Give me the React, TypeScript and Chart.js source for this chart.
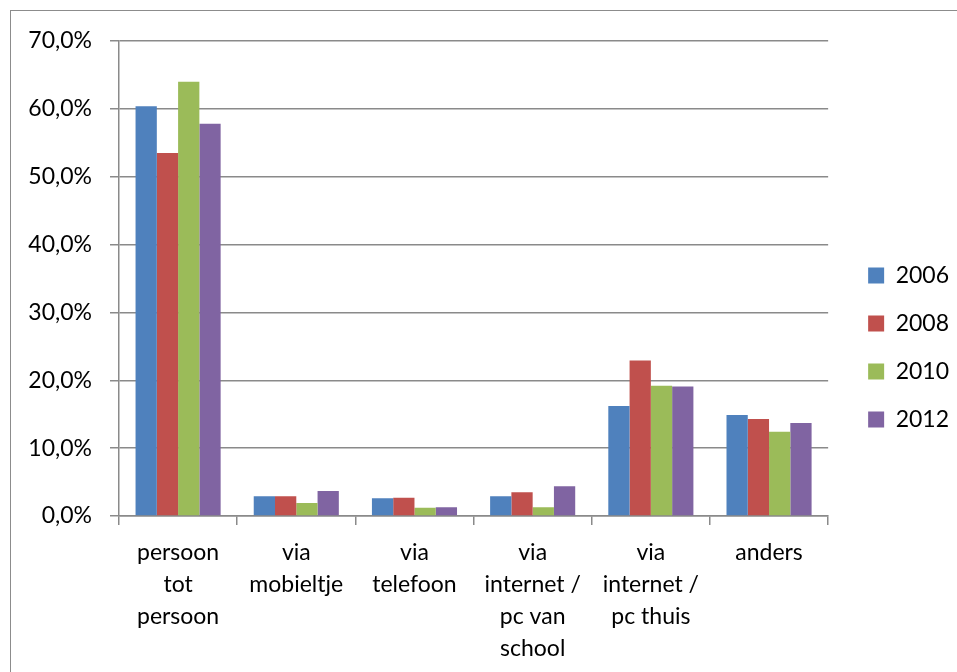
import { useEffect, useRef } from 'react';
import { Chart, registerables } from 'chart.js';

Chart.register(...registerables);

const categories: string[][] = [
  ['persoon', 'tot', 'persoon'],
  ['via', 'mobieltje'],
  ['via', 'telefoon'],
  ['via', 'internet /', 'pc van', 'school'],
  ['via', 'internet /', 'pc thuis'],
  ['anders'],
];
const seriesNames = ['2006', '2008', '2010', '2012'];
const values2006 = [60.4, 2.9, 2.6, 2.9, 16.2, 14.9];
const values2008 = [53.5, 2.9, 2.7, 3.5, 22.9, 14.3];
const values2010 = [64.0, 1.9, 1.2, 1.3, 19.2, 12.4];
const values2012 = [57.8, 3.7, 1.3, 4.4, 19.1, 13.7];
const seriesColors = ['#4F81BD', '#C0504D', '#9BBB59', '#8064A2'];
const yMin = 0;
const yMax = 70;
const yStep = 10;

const FONT = 'Lato';
const GRID = '#8a8a8a';

export default function App() {
  const ref = useRef<HTMLCanvasElement | null>(null);

  useEffect(() => {
    let chart: Chart | null = null;
    let cancelled = false;
    const make = () => {
      if (cancelled || !ref.current) return;
      const allValues = [values2006, values2008, values2010, values2012];
      chart = new Chart(ref.current, {
        type: 'bar',
        data: {
          labels: categories,
          datasets: seriesNames.map((name, i) => ({
            label: name,
            data: allValues[i],
            backgroundColor: seriesColors[i],
            borderWidth: 0,
            categoryPercentage: 0.72,
            barPercentage: 1.0,
          })),
        },
        options: {
          animation: false,
          responsive: false,
          devicePixelRatio: 1,
          layout: { padding: { left: 0, top: 0, bottom: 0, right: 13 } },
          scales: {
            x: {
              offset: true,
              grid: {
                display: true,
                drawOnChartArea: false,
                drawTicks: true,
                tickLength: 9,
                tickColor: GRID,
                lineWidth: 1.5,
              },
              border: { display: true, color: GRID, width: 1.5 },
              ticks: {
                autoSkip: false,
                maxRotation: 0,
                minRotation: 0,
                padding: 12,
                color: '#000',
                font: { family: FONT, size: 23, lineHeight: 32 / 23 },
              },
              afterFit: (scale: any) => {
                scale.height = 175;
              },
            },
            y: {
              min: yMin,
              max: yMax,
              ticks: {
                stepSize: yStep,
                padding: 18,
                color: '#000',
                font: { family: FONT, size: 23 },
                callback: (v: any) => Number(v).toFixed(1).replace('.', ',') + '%',
              },
              grid: {
                color: GRID,
                lineWidth: 1.5,
                tickLength: 9,
                drawTicks: true,
              },
              border: { display: true, color: GRID, width: 1.5 },
              afterFit: (scale: any) => {
                scale.width = 119;
              },
            },
          },
          plugins: {
            title: {
              display: true,
              text: '',
              padding: { top: 0, bottom: 0 },
              font: { size: 41, lineHeight: 1 },
            },
            legend: {
              position: 'right',
              align: 'center',
              labels: {
                boxWidth: 16,
                boxHeight: 16,
                padding: 25,
                color: '#000',
                font: { family: FONT, size: 23 },
              },
            },
            tooltip: { enabled: false },
          },
        },
        plugins: [
          {
            id: 'legendNudge',
            afterLayout(c: any) {
              if (c.legend) {
                c.legend.left += 15;
                c.legend.right += 15;
                c.legend.top += 2;
                c.legend.bottom += 2;
              }
            },
          },
        ],
      });
    };
    const fonts: any = (document as any).fonts;
    if (fonts && fonts.load) {
      fonts.load('23px Lato').then(make, make);
    } else {
      make();
    }
    return () => {
      cancelled = true;
      if (chart) chart.destroy();
    };
  }, []);

  return (
    <div
      style={{
        position: 'fixed',
        left: 0,
        top: 0,
        width: 957,
        height: 672,
        overflow: 'hidden',
        background: '#fff',
      }}
    >
      <div
        style={{
          position: 'absolute',
          left: 10,
          top: 10,
          width: 1000,
          height: 720,
          border: '1px solid #8c8c8c',
          boxSizing: 'border-box',
        }}
      />
      <canvas
        ref={ref}
        width={957}
        height={691}
        style={{ position: 'absolute', left: 0, top: 0, width: 957, height: 691 }}
      />
    </div>
  );
}
